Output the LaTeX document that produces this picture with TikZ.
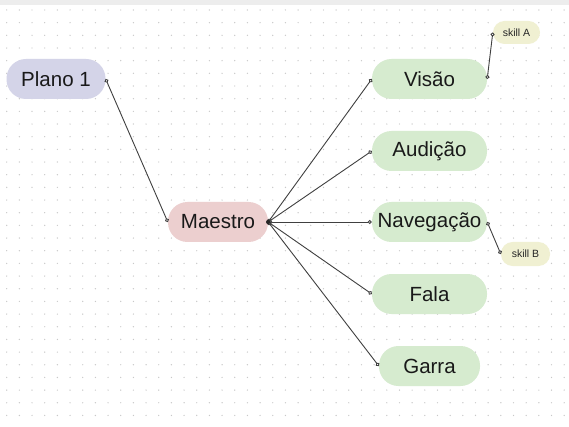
\documentclass[tikz,border=0pt]{standalone}
\usepackage{fontspec}
\setmainfont{Liberation Sans}
\usetikzlibrary{arrows.meta}

\definecolor{rootfill}{HTML}{D4D4E8}
\definecolor{hubfill}{HTML}{ECCFCF}
\definecolor{areafill}{HTML}{D6EBCF}
\definecolor{skillfill}{HTML}{F0F0D2}
\definecolor{griddot}{HTML}{C8C8C8}

\tikzset{
  pill/.style={rounded corners=19.5pt, minimum height=40pt, inner sep=0pt,
    text=black!90, font=\fontsize{20.5}{23}\selectfont},
  topic/.style={pill, fill=rootfill, minimum width=99pt},
  hub/.style={pill, fill=hubfill, minimum width=100pt},
  area/.style={pill, fill=areafill, minimum width=115pt},
  skill/.style={rounded corners=11.5pt, minimum height=23pt, inner sep=0pt,
    fill=skillfill, text=black!85, font=\fontsize{10.5}{12}\selectfont},
  link/.style={draw=black!75, line width=0.9pt,
    {Circle[open,length=4pt,fill=white]}-{Circle[open,length=4pt,fill=white]}},
}

\begin{document}
\begin{tikzpicture}[x=1pt, y=-1pt]
  \useasboundingbox (0,0) rectangle (569,427);
  % Canvas: grey strip on top and dotted grid.
  \fill[white] (0,0) rectangle (569,427);
  \fill[black!7] (0,0) rectangle (569,5.5);
  \foreach \i in {0,...,44}
    \foreach \j in {0,...,32}
      \fill[griddot] (6.7+12.67*\i, 10+12.67*\j) circle (0.7);

  % Nodes of the map.
  \node[topic] (plano) at (56,79) {Plano 1};
  \node[hub] (maestro) at (218,222) {Maestro};
  \node[area] (visao) at (429.5,79) {Visão};
  \node[area] (audicao) at (429.5,151) {Audição};
  \node[area] (navegacao) at (429.5,222) {Navegação};
  \node[area] (fala) at (429.5,294) {Fala};
  \node[area, minimum width=101pt] (garra) at (429.5,366) {Garra};
  \node[skill, minimum width=47pt] (skillA) at (516.5,32.5) {skill A};
  \node[skill, minimum width=49pt, minimum height=24pt] (skillB) at (525.5,254) {skill B};

  % Connectors.
  \draw[link] (plano.east) -- (maestro.west);
  \foreach \n in {visao, audicao, navegacao, fala, garra}
    \draw[link] (maestro.east) -- (\n.west);
  \draw[link] (visao.east) -- (skillA.west);
  \draw[link] (navegacao.east) -- (skillB.west);
  % all five branches meet in one dark knot
  \fill[black!85] (maestro.east) circle (2.2);
\end{tikzpicture}
\end{document}
